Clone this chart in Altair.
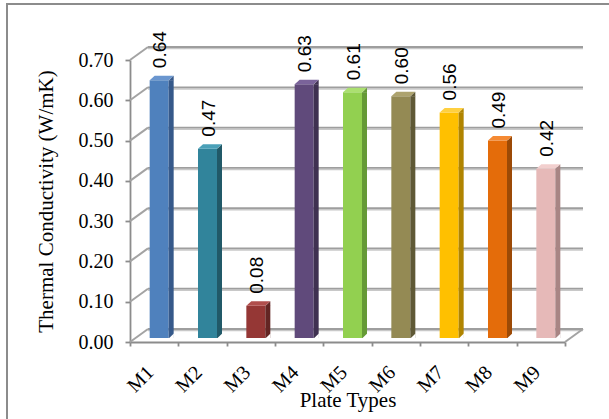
import altair as alt
import pandas as pd

# ---- data ----
categories = ["M1", "M2", "M3", "M4", "M5", "M6", "M7", "M8", "M9"]
values = [0.64, 0.47, 0.08, 0.63, 0.61, 0.60, 0.56, 0.49, 0.42]
y_ticks = [0.0, 0.1, 0.2, 0.3, 0.4, 0.5, 0.6, 0.7]

# ---- palette (front face, side face, top cap) ----
front_colors = ["#4F81BD", "#31849B", "#953735", "#604A7B", "#92D050",
                "#948A54", "#FFC000", "#E46C0A", "#E6B9B8"]
side_colors = ["#36598A", "#215968", "#632523", "#3F3151", "#659A36",
               "#5F5936", "#B08400", "#9C4A06", "#A88584"]
cap_colors = ["#6A96CF", "#4AA0B8", "#B04E4C", "#7A639A", "#ABE070",
              "#ADA36E", "#FFD040", "#F58A33", "#F2CFCE"]

W, H = 435, 282
DEPTH_X, DEPTH_Y = 18, -13      # wall depth
BX, BY = 5, -4                  # bar inset into depth

bars_df = pd.DataFrame({
    "cat": categories,
    "value": values,
    "front": front_colors,
    "side": side_colors,
    "cap": cap_colors,
})
grid_df = pd.DataFrame({"v": y_ticks})
one = pd.DataFrame({"k": [0]})

xscale = alt.Scale(paddingInner=0, paddingOuter=0)
yscale = alt.Scale(domain=[0, 0.7], nice=False, zero=True)
x_axis = alt.Axis(labelAngle=-45, labelAlign="right", labelBaseline="middle",
                  labelPadding=23, labelOffset=-4, tickSize=4, tickBand="extent",
                  titleY=64, titleBaseline="alphabetic")
y_axis = alt.Axis(values=y_ticks, format=".2f", grid=False, tickSize=5,
                  labelPadding=12, titleX=-84, titleY=H / 2,
                  titleAlign="center", titleBaseline="middle")
XT = "Plate Types"
YT = "Thermal Conductivity (W/mK)"


def xcat():
    return alt.X("cat:N", sort=categories, scale=xscale, axis=x_axis, title=XT)


def yfield(f):
    return alt.Y(f, scale=yscale, axis=y_axis, title=YT)


border = alt.Chart(one).mark_rect(fillOpacity=0, stroke="#8c8c8c", strokeWidth=2).encode(
    x=alt.value(-123), x2=alt.value(520), y=alt.value(-56), y2=alt.value(420)
)

back_grid_shadow = alt.Chart(grid_df).mark_rule(color="#c8c8c8", strokeWidth=1.5, yOffset=DEPTH_Y + 1.6).encode(
    y=yfield("v:Q"),
    x=alt.value(DEPTH_X), x2=alt.value(W + DEPTH_X),
)

back_grid = alt.Chart(grid_df).mark_rule(color="#9e9e9e", strokeWidth=1.8, yOffset=DEPTH_Y).encode(
    y=yfield("v:Q"),
    x=alt.value(DEPTH_X), x2=alt.value(W + DEPTH_X),
)

side_grid = alt.Chart(grid_df).mark_rule(color="#a3a3a3", strokeWidth=2, y2Offset=DEPTH_Y).encode(
    y=yfield("v:Q"),
    y2=alt.Y2("v:Q"),
    x=alt.value(0), x2=alt.value(DEPTH_X),
)

floor_edge = alt.Chart(grid_df).transform_filter(alt.datum.v == 0).mark_rule(
    color="#a3a3a3", strokeWidth=2, y2Offset=DEPTH_Y).encode(
    y=yfield("v:Q"), y2=alt.Y2("v:Q"),
    x=alt.value(W), x2=alt.value(W + DEPTH_X),
)

bars = alt.Chart(bars_df).mark_bar(size=19, xOffset=BX, yOffset=BY, y2Offset=BY).encode(
    x=xcat(),
    y=yfield("value:Q"),
    color=alt.Color("front:N", scale=None),
)

sides = alt.Chart(bars_df).mark_bar(size=5, xOffset=BX + 12, yOffset=BY, y2Offset=BY).encode(
    x=xcat(),
    y=yfield("value:Q"),
    color=alt.Color("side:N", scale=None),
)

cap_path = "M-9.5,0 L9.5,0 L14.5,-4.5 L-4.5,-4.5 Z"
side_top_path = "M9.5,0.3 L14.5,-4.5 L14.5,0.3 Z"
bottom_fix_path = "M9.5,0.5 L14.7,0.5 L14.7,-4.5 Z"

caps = alt.Chart(bars_df).mark_point(shape=cap_path, size=4, filled=True, opacity=1,
                                     strokeWidth=0, xOffset=BX, yOffset=BY).encode(
    x=xcat(),
    y=yfield("value:Q"),
    color=alt.Color("cap:N", scale=None),
)

side_tops = alt.Chart(bars_df).mark_point(shape=side_top_path, size=4, filled=True, opacity=1,
                                          strokeWidth=0, xOffset=BX, yOffset=BY).encode(
    x=xcat(),
    y=yfield("value:Q"),
    color=alt.Color("side:N", scale=None),
)

bottom_fix = alt.Chart(bars_df).transform_calculate(zero="0").mark_point(
    shape=bottom_fix_path, size=4, filled=True, opacity=1,
    strokeWidth=0, color="white", xOffset=BX, yOffset=BY).encode(
    x=xcat(),
    y=yfield("zero:Q"),
)

labels = alt.Chart(bars_df).mark_text(angle=270, align="left", baseline="middle",
                                      font="Liberation Sans", fontSize=19, color="#000000",
                                      xOffset=BX + 1, yOffset=BY - 12).encode(
    x=xcat(),
    y=yfield("value:Q"),
    text=alt.Text("value:Q", format=".2f"),
)

chart = alt.layer(
    border, back_grid_shadow, back_grid, side_grid, floor_edge, bars, sides, caps,
    side_tops, bottom_fix, labels
).properties(
    width=W, height=H,
    padding={"left": 130, "top": 60, "right": 44, "bottom": 77},
    autosize=alt.AutoSizeParams(type="none"),
    background="white",
).configure_view(
    stroke=None
).configure_axis(
    labelFont="Liberation Serif", titleFont="Liberation Serif",
    labelFontSize=20, titleFontSize=21, titleFontWeight="normal",
    labelColor="#000000", titleColor="#000000",
    domainColor="#8c8c8c", tickColor="#8c8c8c", domainWidth=1.8, tickWidth=1.8,
).configure_axisX(
    labelFontSize=20
)

chart.save("out.html", embed_options={"renderer": "svg", "actions": False})
